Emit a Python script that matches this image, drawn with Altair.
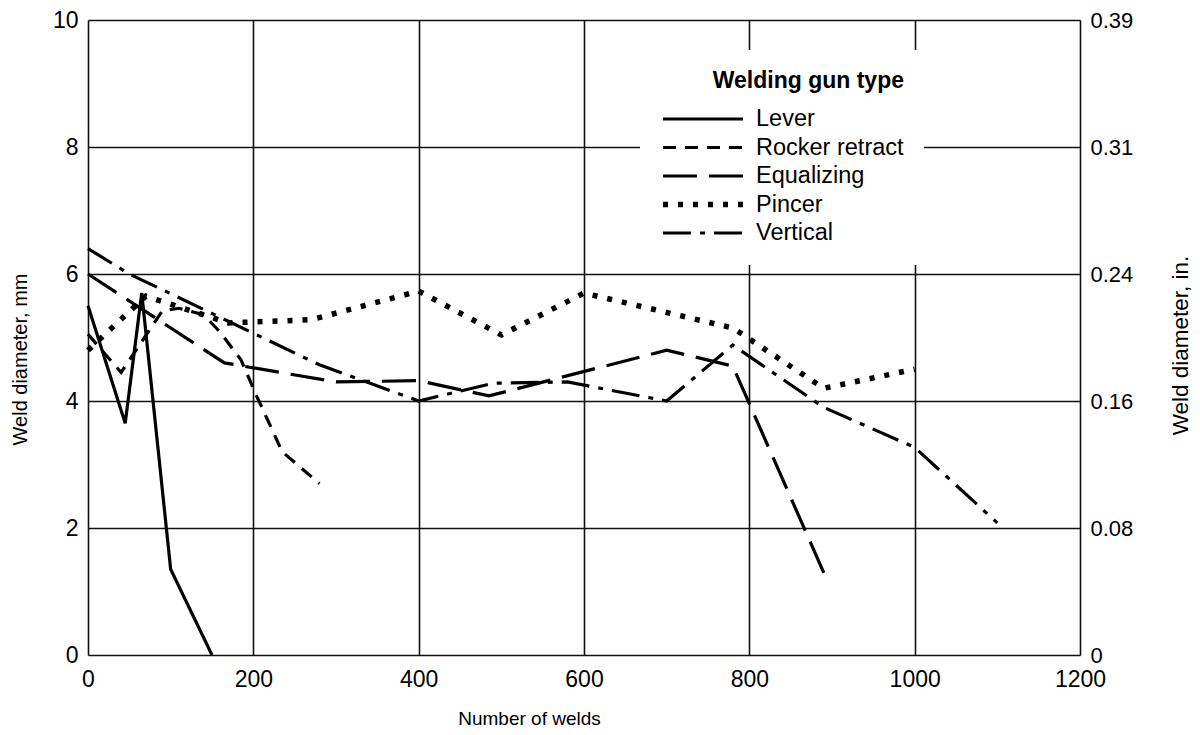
import altair as alt
import pandas as pd

# ---- data ----
gun_types = ["Lever", "Rocker retract", "Equalizing", "Pincer", "Vertical"]

lever_welds = [0, 45, 65, 100, 150]
lever_mm = [5.5, 3.65, 5.7, 1.35, 0.0]

rocker_welds = [0, 40, 90, 110, 140, 160, 185, 205, 235, 280]
rocker_mm = [5.05, 4.45, 5.42, 5.46, 5.36, 5.08, 4.65, 4.05, 3.2, 2.7]

equalizing_welds = [0, 165, 300, 400, 485, 700, 780, 895]
equalizing_mm = [6.0, 4.6, 4.3, 4.32, 4.08, 4.8, 4.55, 1.15]

pincer_welds = [0, 70, 170, 270, 400, 500, 600, 780, 890, 1000]
pincer_mm = [4.8, 5.65, 5.23, 5.28, 5.73, 5.04, 5.7, 5.15, 4.2, 4.5]

vertical_welds = [0, 50, 280, 400, 490, 580, 700, 780, 890, 1000, 1100]
vertical_mm = [6.4, 6.0, 4.57, 4.0, 4.28, 4.3, 4.0, 4.88, 3.9, 3.27, 2.08]

weld_ticks = [0, 200, 400, 600, 800, 1000, 1200]
mm_ticks = [0, 2, 4, 6, 8, 10]
inch_labels = ["0", "0.08", "0.16", "0.24", "0.31", "0.39"]

# ---- styles ----
dash_styles = [[1, 0], [13, 9], [34, 12], [5, 10], [28, 9, 5, 9]]
line_widths = [3.2, 3.2, 3.2, 5.5, 3.2]
FONT = "Liberation Sans"

series = [
    (gun_types[0], lever_welds, lever_mm),
    (gun_types[1], rocker_welds, rocker_mm),
    (gun_types[2], equalizing_welds, equalizing_mm),
    (gun_types[3], pincer_welds, pincer_mm),
    (gun_types[4], vertical_welds, vertical_mm),
]
rows = []
for name, xs, ys in series:
    for x, y in zip(xs, ys):
        rows.append({"type": name, "welds": x, "mm": y})
df = pd.DataFrame(rows)

inch_expr = " : ".join(
    f"datum.value == {v} ? '{l}'" for v, l in zip(mm_ticks, inch_labels)
) + " : ''"

legend = alt.Legend(
    title="Welding gun type",
    orient="none",
    legendX=552,
    legendY=30,
    fillColor="white",
    padding=20,
    symbolType="stroke",
    symbolSize=6400,
    symbolStrokeColor="black",
    clipHeight=20,
    rowPadding=4.5,
    labelFont=FONT,
    labelFontSize=23.5,
    labelColor="black",
    labelOffset=10,
    labelLimit=400,
    titleFont=FONT,
    titleFontSize=23,
    titleFontWeight="bold",
    titleColor="black",
    titleAnchor="end",
    titleLimit=500,
    titlePadding=16,
)

x_axis = alt.Axis(
    values=weld_ticks,
    title="Number of welds",
    titleFont=FONT,
    titleFontSize=19,
    titleFontWeight="normal",
    titleColor="black",
    titleX=441,
    titleY=63,
    titleBaseline="middle",
    labelFont=FONT,
    labelFontSize=23,
    labelColor="black",
    labelPadding=13,
    labelFlush=False,
    ticks=False,
    domain=False,
    grid=True,
    gridColor="#111111",
    gridWidth=1.6,
    gridOpacity=1,
    format="d",
)

x_enc = alt.X("welds:Q", scale=alt.Scale(domain=[0, 1200], nice=False), axis=x_axis)

lines = alt.Chart(df).mark_line(color="black").encode(
    x=x_enc,
    y=alt.Y(
        "mm:Q",
        scale=alt.Scale(domain=[0, 10], nice=False),
        axis=alt.Axis(
            values=mm_ticks,
            orient="left",
            title="Weld diameter, mm",
            titleFont=FONT,
            titleFontSize=20,
            titleFontWeight="normal",
            titleColor="black",
            titleAngle=270,
            titleX=-68,
            titleY=339,
            titleAlign="center",
            titleBaseline="middle",
            labelFont=FONT,
            labelFontSize=23,
            labelColor="black",
            labelPadding=10,
            ticks=False,
            domain=False,
            grid=True,
            gridColor="#111111",
            gridWidth=1.6,
            gridOpacity=1,
        ),
    ),
    strokeDash=alt.StrokeDash(
        "type:N",
        scale=alt.Scale(domain=gun_types, range=dash_styles),
        legend=legend,
    ),
    strokeWidth=alt.StrokeWidth(
        "type:N",
        scale=alt.Scale(type="ordinal", domain=gun_types, range=line_widths),
        legend=legend,
    ),
    detail="type:N",
)

right_axis = alt.Chart(df).mark_line(opacity=0).encode(
    x=x_enc,
    y=alt.Y(
        "mm:Q",
        scale=alt.Scale(domain=[0, 10], nice=False),
        axis=alt.Axis(
            values=mm_ticks,
            orient="right",
            labelExpr=inch_expr,
            title="Weld diameter, in.",
            titleFont=FONT,
            titleFontSize=22.5,
            titleFontWeight="normal",
            titleColor="black",
            titleAngle=270,
            titleX=100,
            titleY=325,
            titleAlign="center",
            titleBaseline="middle",
            labelFont=FONT,
            labelFontSize=22,
            labelColor="black",
            labelPadding=10,
            ticks=False,
            domain=False,
            grid=False,
        ),
    ),
    detail="type:N",
)

chart = (
    alt.layer(lines, right_axis)
    .resolve_scale(y="independent")
    .resolve_axis(y="independent")
    .properties(
        width=992,
        height=635,
        autosize=alt.AutoSizeParams(type="none"),
        padding={"left": 80, "top": 12, "right": 112, "bottom": 78},
    )
    .configure_view(stroke="black", strokeWidth=2)
    .configure(font=FONT, background="white")
)

chart.save("out.html", embed_options={"renderer": "svg", "actions": False})
